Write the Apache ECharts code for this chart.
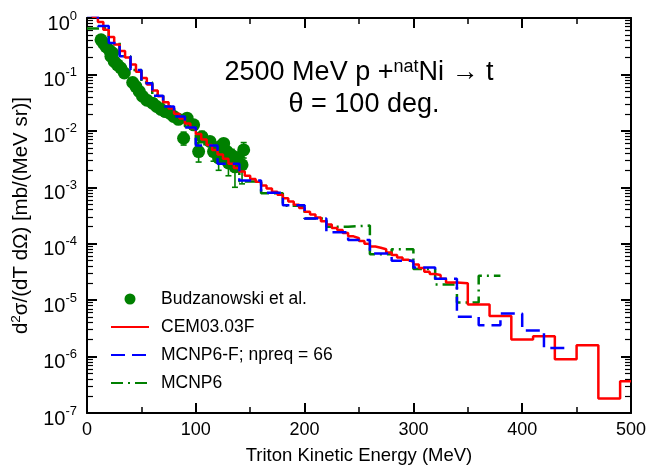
<!DOCTYPE html>
<html><head><meta charset="utf-8">
<script src="https://cdn.jsdelivr.net/npm/echarts@6/dist/echarts.min.js"></script>
<style>html,body{margin:0;padding:0;background:#fff}#c{width:649px;height:466px}</style>
</head><body><div id="c"></div>
<script>
const FONT = "'Liberation Sans', Arial, Helvetica, sans-serif";

// ---- axis ticks ----
const xMin = 0, xMax = 500, xInterval = 100;
const yMin = 1e-7, yMax = 1;

// ---- CEM03.03F (red histogram): left bin edges, values, last right edge ----
const cemEdges = [0,5,10,15,20,25,30,35,40,45,50,55,60,65,70,75,80,85,90,95,
  100,105,110,115,120,125,130,135,140,145,150,155,160,165,170,175,180,185,190,195,
  200,205,210,215,220,225,230,235,240,245,250,255,260,265,270,275,280,285,290,295,
  300,305,310,315,320,325,330,340,350,370,390,410,430,450,470,490];
const cemVals = [1.6,1.05,0.85,0.62,0.46,0.34,0.26,0.2,0.15,0.112,0.086,0.066,0.052,0.041,0.032,0.025,0.02,0.0165,0.0135,0.0112,
  0.0088,0.007,0.0056,0.0046,0.0038,0.0032,0.0026,0.0022,0.0019,0.0016,0.0014,0.00125,0.00108,0.00095,0.00083,0.00074,0.00064,0.00056,0.00049,0.00043,
  0.00037,0.00033,0.00029,0.00025,0.00022,0.00019,0.000175,0.000155,0.000135,0.000125,0.000112,0.0001,8.9e-5,8.5e-5,8.0e-5,7.0e-5,6.3e-5,5.7e-5,5.2e-5,4.8e-5,
  4.3e-5,3.7e-5,3.2e-5,2.9e-5,2.8e-5,2.4e-5,2.06e-5,2.0e-5,8.4e-6,5.26e-6,2.0e-6,2.3e-6,9.0e-7,1.59e-6,1.8e-7,3.65e-7];
const cemEnd = 500;

// ---- MCNP6-F; npreq = 66 (blue dashed histogram) ----
const mcfEdges = [0,10,20,30,40,50,60,70,80,90,100,120,140,160,180,200,220,240,260,280,300,320,340,360,380,400,420];
const mcfVals = [1.1,0.72,0.36,0.21,0.12,0.07,0.042,0.027,0.018,0.0115,0.0055,0.0026,0.00132,0.0008,0.00048,0.00028,0.00016,0.000116,6.7e-5,5.0e-5,3.8e-5,2.4e-5,5.06e-6,3.6e-6,5.8e-6,2.9e-6,1.42e-6];
const mcfEnd = 440;

// ---- MCNP6 (green dash-dot histogram) ----
const mcEdges = [0,10,20,30,40,50,60,70,80,90,100,120,140,160,180,200,220,240,260,280,300,320,340,360];
const mcVals = [0.65,0.68,0.37,0.21,0.12,0.072,0.043,0.027,0.018,0.012,0.0058,0.0028,0.00126,0.00078,0.00047,0.00028,0.0002,0.00021,6.5e-5,8.0e-5,3.55e-5,1.9e-5,9.1e-6,2.7e-5];
const mcEnd = 380;

// ---- Budzanowski et al. (experiment) ----
const expE = [12.9,15,17.5,20.5,22,23.5,25,28,31,34.3,42,45,48,51,55,60.3,64,68,72,76,79.6,84,88.8,92,98,102.6,105.7,113,116.3,121,122.5,125.6,128.7,130,133,136,137.9,142.5,144];
const expVal = [0.41,0.36,0.31,0.27,0.21,0.24,0.17,0.148,0.13,0.106,0.072,0.061,0.05,0.041,0.035,0.031,0.027,0.024,0.022,0.0205,0.018,0.016,0.0074,0.0168,0.0128,0.0043,0.0079,0.0065,0.0043,0.0033,0.0053,0.006,0.0043,0.0027,0.0037,0.0023,0.0033,0.0025,0.0046];
// visible error bars
const errE  = [88.8,102.6,105.7,116.3,121,130,133,136,137.9,142.5,144];
const errLo = [0.0056,0.0028,0.0062,0.0029,0.002,0.0016,0.0027,0.001,0.0024,0.00115,0.0033];
const errHi = [0.0095,0.0062,0.0098,0.0058,0.0045,0.0036,0.0047,0.0032,0.0042,0.0034,0.0062];

function stepData(edges, vals, end) {
  const d = edges.map((e, i) => [e, vals[i]]);
  d.push([end, vals[vals.length - 1]]);
  return d;
}

const chart = echarts.init(document.getElementById('c'), null, {renderer: 'canvas'});

const supLabel = v => {
  const e = Math.round(Math.log10(v));
  return '{b|10}{s|' + e + '}';
};

const xAxisBase = {
  type: 'value', min: xMin, max: xMax, interval: xInterval,
  axisLine: {show: true, onZero: false, lineStyle: {color: '#000', width: 2}},
  axisTick: {show: true, inside: true, length: 10, lineStyle: {color: '#000', width: 2}},
  minorTick: {show: true, splitNumber: 2, length: 6, lineStyle: {color: '#000', width: 1.5}},
  splitLine: {show: false}
};
const yAxisBase = {
  type: 'log', logBase: 10, min: yMin, max: yMax,
  axisLine: {show: true, onZero: false, lineStyle: {color: '#000', width: 2}},
  axisTick: {show: true, inside: true, length: 10, lineStyle: {color: '#000', width: 2}},
  minorTick: {show: true, splitNumber: 9, length: 6, lineStyle: {color: '#000', width: 1.2}},
  splitLine: {show: false}
};

const hiddenSym = {color: 'rgba(0,0,0,0)', borderWidth: 0, borderColor: 'rgba(0,0,0,0)'};

const option = {
  animation: false,
  backgroundColor: '#fff',
  grid: {left: 87, right: 18, top: 18, bottom: 53, outerBoundsMode: 'none', containLabel: false},
  xAxis: [
    Object.assign({}, xAxisBase, {
      position: 'bottom',
      name: 'Triton Kinetic Energy (MeV)', nameLocation: 'middle', nameGap: 33,
      nameTextStyle: {fontFamily: FONT, fontSize: 18.5, color: '#000'},
      axisLabel: {show: true, margin: 8, fontFamily: FONT, fontSize: 18, color: '#000'}
    }),
    Object.assign({}, xAxisBase, {position: 'top', axisLabel: {show: false}})
  ],
  yAxis: [
    Object.assign({}, yAxisBase, {
      position: 'left',
      name: '{a|d}{s|2}{a|σ/(dT dΩ) [mb/(MeV sr)]}', nameLocation: 'middle', nameGap: 31,
      nameTextStyle: {fontFamily: FONT, fontSize: 20.5, color: '#000',
        rich: {a: {fontFamily: FONT, fontSize: 20.5, color: '#000'},
               s: {fontFamily: FONT, fontSize: 13.5, color: '#000', padding: [0, 0, 12, 0]}}},
      axisLabel: {show: true, margin: 10, formatter: supLabel, color: '#000',
        rich: {b: {fontFamily: FONT, fontSize: 20, color: '#000', padding: [12, 0, 0, 0]},
               s: {fontFamily: FONT, fontSize: 13, color: '#000', padding: [0, 0, 4, 0]}}}
    }),
    Object.assign({}, yAxisBase, {position: 'right', axisLabel: {show: false}})
  ],
  legend: {
    orient: 'vertical', left: 105, top: 285,
    itemWidth: 38, itemHeight: 11, itemGap: 10,
    data: [
      {name: 'Budzanowski et al.'},
      {name: 'CEM03.03F', itemStyle: hiddenSym},
      {name: 'MCNP6-F; npreq = 66', itemStyle: hiddenSym},
      {name: 'MCNP6', itemStyle: hiddenSym}
    ],
    textStyle: {fontFamily: FONT, fontSize: 17.5, color: '#000', lineHeight: 18, padding: [0, 0, 0, 7]}
  },
  graphic: [
    {type: 'text', x: 359, y: 73, z: 100,
     style: {text: '2500 MeV p +{s|nat}Ni → t', align: 'center', verticalAlign: 'middle',
       fontFamily: FONT, fontSize: 27, fill: '#000',
       rich: {s: {fontFamily: FONT, fontSize: 18, fill: '#000', padding: [0, 0, 12, 0]}}}},
    {type: 'text', x: 364, y: 105, z: 100,
     style: {text: 'θ = 100 deg.', align: 'center', verticalAlign: 'middle',
       fontFamily: FONT, fontSize: 27, fill: '#000'}}
  ],
  series: [
    {
      name: 'errbars', type: 'custom', z: 2, silent: true,
      data: errE.map((e, i) => [e, errLo[i], errHi[i]]),
      renderItem: function (params, api) {
        const x = api.value(0);
        const lo = api.coord([x, api.value(1)]);
        const hi = api.coord([x, api.value(2)]);
        const st = {stroke: '#008000', lineWidth: 1.6};
        return {type: 'group', children: [
          {type: 'line', shape: {x1: lo[0], y1: lo[1], x2: hi[0], y2: hi[1]}, style: st},
          {type: 'line', shape: {x1: lo[0] - 3, y1: lo[1], x2: lo[0] + 3, y2: lo[1]}, style: st},
          {type: 'line', shape: {x1: hi[0] - 3, y1: hi[1], x2: hi[0] + 3, y2: hi[1]}, style: st}
        ]};
      }
    },
    {
      name: 'Budzanowski et al.', type: 'scatter', z: 3,
      symbol: 'circle', symbolSize: 13,
      itemStyle: {color: '#008000', opacity: 1},
      data: expE.map((e, i) => [e, expVal[i]])
    },
    {
      name: 'MCNP6', type: 'line', z: 4, step: 'end', symbol: 'none', showSymbol: false,
      clip: true,
      lineStyle: {color: '#008000', width: 2.5, type: [12, 5, 2, 5]},
      itemStyle: {color: '#008000'},
      data: stepData(mcEdges, mcVals, mcEnd)
    },
    {
      name: 'CEM03.03F', type: 'line', z: 5, step: 'end', symbol: 'none', showSymbol: false,
      clip: true,
      lineStyle: {color: '#ff0000', width: 2.5},
      itemStyle: {color: '#ff0000'},
      data: stepData(cemEdges, cemVals, cemEnd)
    },
    {
      name: 'MCNP6-F; npreq = 66', type: 'line', z: 6, step: 'end', symbol: 'none', showSymbol: false,
      clip: true,
      lineStyle: {color: '#0000ff', width: 2.5, type: [14, 7]},
      itemStyle: {color: '#0000ff'},
      data: stepData(mcfEdges, mcfVals, mcfEnd)
    }
  ]
};
chart.setOption(option);
</script>
</body></html>
